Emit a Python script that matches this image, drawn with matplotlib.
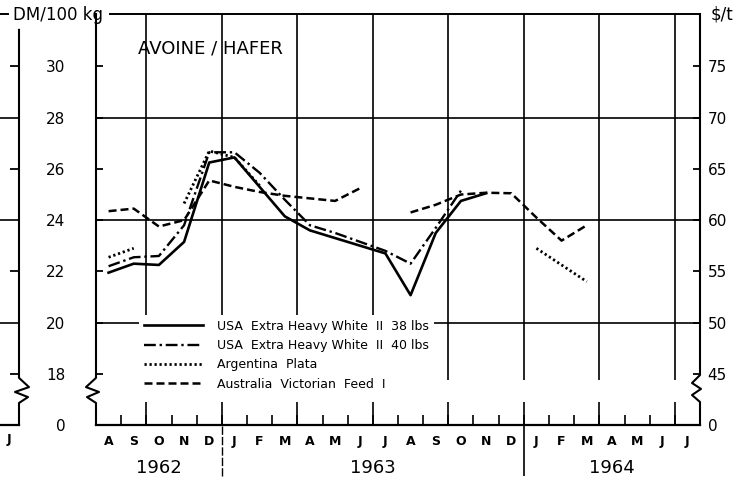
import matplotlib.pyplot as plt
import numpy as np

plt.rcParams['font.family'] = ['DejaVu Sans']

# monthly prices, Aug 1962 .. Jul 1964, in DM/100 kg (mid-month values)
months = ['A', 'S', 'O', 'N', 'D', 'J', 'F', 'M', 'A', 'M', 'J', 'J',
          'A', 'S', 'O', 'N', 'D', 'J', 'F', 'M', 'A', 'M', 'J', 'J']
years = ['1962', '1963', '1964']
year_mid = [2.5, 11.0, 20.5]
year_breaks = [5, 17]
quarter_lines = [2, 5, 8, 11, 14, 17, 20, 23]

nan = np.nan
usa_38 = [21.95, 22.3, 22.25, 23.15, 26.25, 26.45, 25.3, 24.15, 23.6, 23.3, 23.0, 22.7,
          21.07, 23.5, 24.75, 25.05, nan, nan, nan, nan, nan, nan, nan, nan]
usa_40 = [22.2, 22.55, 22.6, 23.8, 26.65, 26.65, 25.85, 24.8, 23.8, 23.5, 23.15, 22.8,
          22.3, 23.7, 25.15, nan, nan, nan, nan, nan, nan, nan, nan, nan]
argentina = [22.55, 22.9, nan, 24.65, 26.7, 26.45, 25.35, nan, nan, nan, nan, nan,
             nan, nan, nan, nan, nan, 22.9, 22.25, 21.6, nan, nan, nan, nan]
australia = [24.35, 24.45, 23.75, 24.0, 25.55, 25.3, 25.1, 24.95, 24.85, 24.75, 25.25, nan,
             24.3, 24.6, 25.0, 25.07, 25.05, 24.1, 23.2, 23.8, nan, nan, nan, nan]

dm_ticks = [18, 20, 22, 24, 26, 28, 30]
usd_ticks = [45, 50, 55, 60, 65, 70, 75]
zero_pos = 16.0          # where the broken axis shows "0"
ytop = 32.05

W, H = 750, 483


def px(x0, y0, x1, y1):
    return [x0 / W, 1 - y1 / H, (x1 - x0) / W, (y1 - y0) / H]


fig = plt.figure(figsize=(7.5, 4.83), dpi=100)

# ---- main chart ----
ax = fig.add_axes(px(96, 14, 700, 425))
ax.set_facecolor('none')
ax.set_xlim(0, 24)
ax.set_ylim(zero_pos, ytop)
for s in ['left', 'right']:
    ax.spines[s].set_visible(False)
ax.spines['top'].set_bounds(0.55, 24)
ax.spines['top'].set_linewidth(1.4)
ax.spines['bottom'].set_linewidth(1.6)

# broken left / right axis lines
yt = ax.get_yaxis_transform()
ax.plot([0, 0, -10 / 604, 3 / 604, -9 / 604, 0, 0],
        [ytop, 17.84, 17.48, 17.29, 17.09, 16.86, zero_pos],
        color='k', lw=1.5, transform=yt, clip_on=False)
ax.plot([1, 1, 1 - 8 / 604, 1 + 1 / 604, 1 - 8 / 604, 1, 1],
        [ytop, 17.95, 17.64, 17.41, 17.17, 16.9, zero_pos],
        color='k', lw=1.5, transform=yt, clip_on=False)

# grid
ax.hlines([28, 24, 20], 0, 24, color='k', lw=1.2, zorder=1)
ax.vlines(quarter_lines, 17.76, ytop, color='k', lw=1.2, zorder=1)
ax.vlines(quarter_lines, zero_pos, 16.9, color='k', lw=1.2, zorder=1)
ax.vlines(year_breaks[0], 14.0, zero_pos, color='k', lw=1.0, linestyles=(0, (6, 1.5)), clip_on=False)
ax.vlines(year_breaks[1], 14.0, zero_pos, color='k', lw=1.2, clip_on=False)

x = np.arange(len(months)) + 0.5
ax.plot(x, usa_38, color='k', lw=1.9, label='USA  Extra Heavy White  II  38 lbs', zorder=3)
ax.plot(x, usa_40, color='k', lw=1.7, dashes=(5, 1.6, 1, 1.6),
        label='USA  Extra Heavy White  II  40 lbs', zorder=3)
ax.plot(x, argentina, color='k', lw=2.0, dashes=(0.8, 1.0), label='Argentina  Plata', zorder=3)
ax.plot(x, australia, color='k', lw=1.8, dashes=(3.2, 1.6),
        label='Australia  Victorian  Feed  I', zorder=3)

# x axis: month ticks and labels
ax.set_xticks(range(1, 24))
ax.set_xticklabels([])
ax.set_xticks(x, months, minor=True)
ax.tick_params(axis='x', which='major', direction='in', length=7, width=1.2)
ax.tick_params(axis='x', which='minor', length=0, pad=7, labelsize=9)
for t in ax.get_xticklabels(minor=True):
    t.set_fontweight('bold')
for yr, xm in zip(years, year_mid):
    ax.text(xm, -0.105, yr, transform=ax.get_xaxis_transform(), ha='center', va='center', fontsize=13)

# left scale (DM/100 kg)
ax.set_yticks([zero_pos] + dm_ticks, ['0'] + [str(v) for v in dm_ticks])
ax.tick_params(axis='y', direction='in', length=5, width=1.3, pad=22, labelsize=11)

# right scale ($/t = DM/100kg * 2.5)
sec = ax.secondary_yaxis('right', functions=(lambda d: d * 2.5, lambda u: u / 2.5))
sec.set_yticks([zero_pos * 2.5] + usd_ticks, ['0'] + [str(v) for v in usd_ticks])
sec.tick_params(direction='in', length=5, width=1.3, pad=5.5, labelsize=11)
for s in sec.spines.values():
    s.set_visible(False)

ax.text(0.189, 0.915, 'AVOINE / HAFER', transform=ax.transAxes, ha='center', va='center', fontsize=13)

ax.legend(loc='upper left', bbox_to_anchor=(0.072, 0.268), fontsize=9, frameon=True,
          facecolor='white', edgecolor='none', framealpha=1, fancybox=False,
          handlelength=4.7, handletextpad=1.1, labelspacing=0.5, borderpad=0.4,
          borderaxespad=0)

# ---- fragment of the neighbouring chart on the left ----
axl = fig.add_axes(px(-60, 14, 19, 425))
axl.set_facecolor('none')
axl.set_xlim(0, 1)
axl.set_ylim(zero_pos, ytop)
axl.spines['left'].set_visible(False)
axl.spines['right'].set_visible(False)
axl.spines['top'].set_bounds(0, 0.86)
axl.spines['top'].set_linewidth(1.4)
axl.spines['bottom'].set_linewidth(1.6)
axl.hlines([28, 24, 20], 0, 1, color='k', lw=1.2)
axl.plot([1, 1, 1 + 10 / 79, 1 - 4 / 79, 1 + 9 / 79, 1, 1],
         [31.43, 17.84, 17.48, 17.29, 17.09, 16.86, zero_pos],
         color='k', lw=1.5, transform=axl.get_yaxis_transform(), clip_on=False)
axl.set_xticks([])
axl.yaxis.tick_right()
axl.set_yticks([18, 22, 26, 30])
axl.tick_params(axis='y', direction='in', length=6.5, width=1.3, labelright=False)
axl.text(0.873, -0.035, 'J', transform=axl.transAxes, ha='center', va='center',
         fontsize=9, fontweight='bold')

fig.text(58 / W, 1 - 15 / H, 'DM/100 kg', ha='center', va='center', fontsize=12)
fig.text(722 / W, 1 - 15 / H, '$/t', ha='center', va='center', fontsize=12)

fig.savefig('out.png', dpi=100)
